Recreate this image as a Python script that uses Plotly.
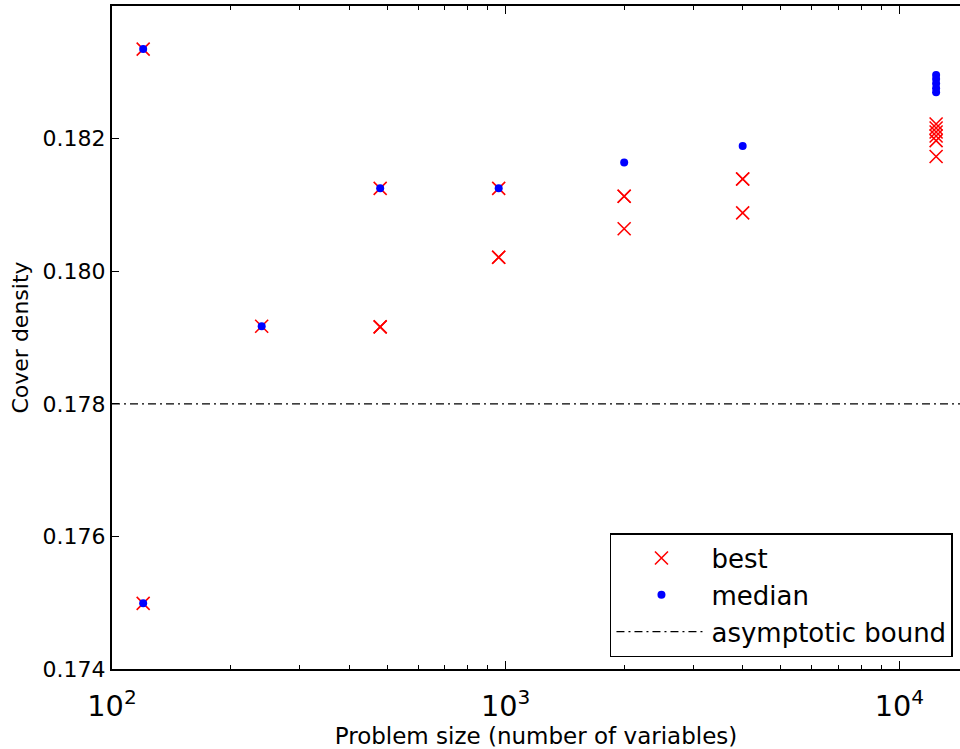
import math
import plotly.graph_objects as go

# ---- data ----
sizes = [120, 240, 480, 960, 2000, 4000, 12400]

best_values = [
    [0.18335, 0.17499],
    [0.17917],
    [0.18125, 0.17916, 0.17916],
    [0.18125, 0.18021, 0.18021],
    [0.18113, 0.18113, 0.18064],
    [0.18139, 0.18139, 0.18088],
    [0.18222, 0.18216, 0.18210, 0.18204, 0.18197, 0.18173],
]

median_values = [
    [0.18335, 0.17499],
    [0.17917],
    [0.18125],
    [0.18125],
    [0.18164],
    [0.18189],
    [0.18296, 0.18290, 0.18283, 0.18276, 0.18270],
]

asymptotic_bound = 0.178

x_limits = [100, 14260]
y_limits = [0.174, 0.184]
y_ticks = [0.174, 0.176, 0.178, 0.180, 0.182]

# flatten per-size lists into point lists
best_x = [s for s, vals in zip(sizes, best_values) for _ in vals]
best_y = [v for vals in best_values for v in vals]
med_x = [s for s, vals in zip(sizes, median_values) for _ in vals]
med_y = [v for vals in median_values for v in vals]

FONT = "DejaVu Sans"

fig = go.Figure()

fig.add_trace(go.Scatter(
    x=best_x, y=best_y, mode="markers", name="best",
    marker=dict(symbol="x-thin", size=13, color="#ff0000",
                line=dict(color="#ff0000", width=1.6)),
))
fig.add_trace(go.Scatter(
    x=med_x, y=med_y, mode="markers", name="median",
    marker=dict(symbol="circle", size=8, color="#0000ff",
                line=dict(width=0)),
))
fig.add_trace(go.Scatter(
    x=x_limits, y=[asymptotic_bound, asymptotic_bound], mode="lines",
    name="asymptotic bound",
    line=dict(color="black", width=1.2, dash="8px,4px,2px,4px"),
))

fig.update_layout(
    width=960, height=749,
    margin=dict(l=112, r=0, t=6, b=80),
    paper_bgcolor="white", plot_bgcolor="white",
    font=dict(family=FONT, color="black", size=22),
    showlegend=True,
    legend=dict(
        x=0.9917, y=0.018, xanchor="right", yanchor="bottom",
        bgcolor="white", bordercolor="black", borderwidth=1.5,
        font=dict(family=FONT, size=26, color="black"),
        itemwidth=90, tracegroupgap=0,
    ),
)

fig.update_xaxes(
    type="log",
    range=[math.log10(x_limits[0]), math.log10(x_limits[1])],
    dtick=1, exponentformat="power", showexponent="all",
    showgrid=False, zeroline=False,
    showline=True, linecolor="black", linewidth=2, mirror="ticks",
    ticks="inside", ticklen=8, tickwidth=1, tickcolor="black",
    minor=dict(ticks="inside", ticklen=4, tickwidth=1, tickcolor="black",
               dtick="D1", showgrid=False),
    tickfont=dict(family=FONT, size=23, color="black"),
    ticklabelstandoff=12,
    title=dict(text="Problem size (number of variables)",
               font=dict(family=FONT, size=23, color="black"), standoff=6),
)

fig.update_yaxes(
    range=y_limits,
    tickvals=y_ticks, tickformat=".3f",
    showgrid=False, zeroline=False,
    showline=True, linecolor="black", linewidth=2, mirror=False,
    ticks="inside", ticklen=7, tickwidth=1, tickcolor="black",
    tickfont=dict(family=FONT, size=22, color="black"),
    title=dict(text="Cover density",
               font=dict(family=FONT, size=22, color="black"), standoff=8),
)

fig.write_html("out.html")
